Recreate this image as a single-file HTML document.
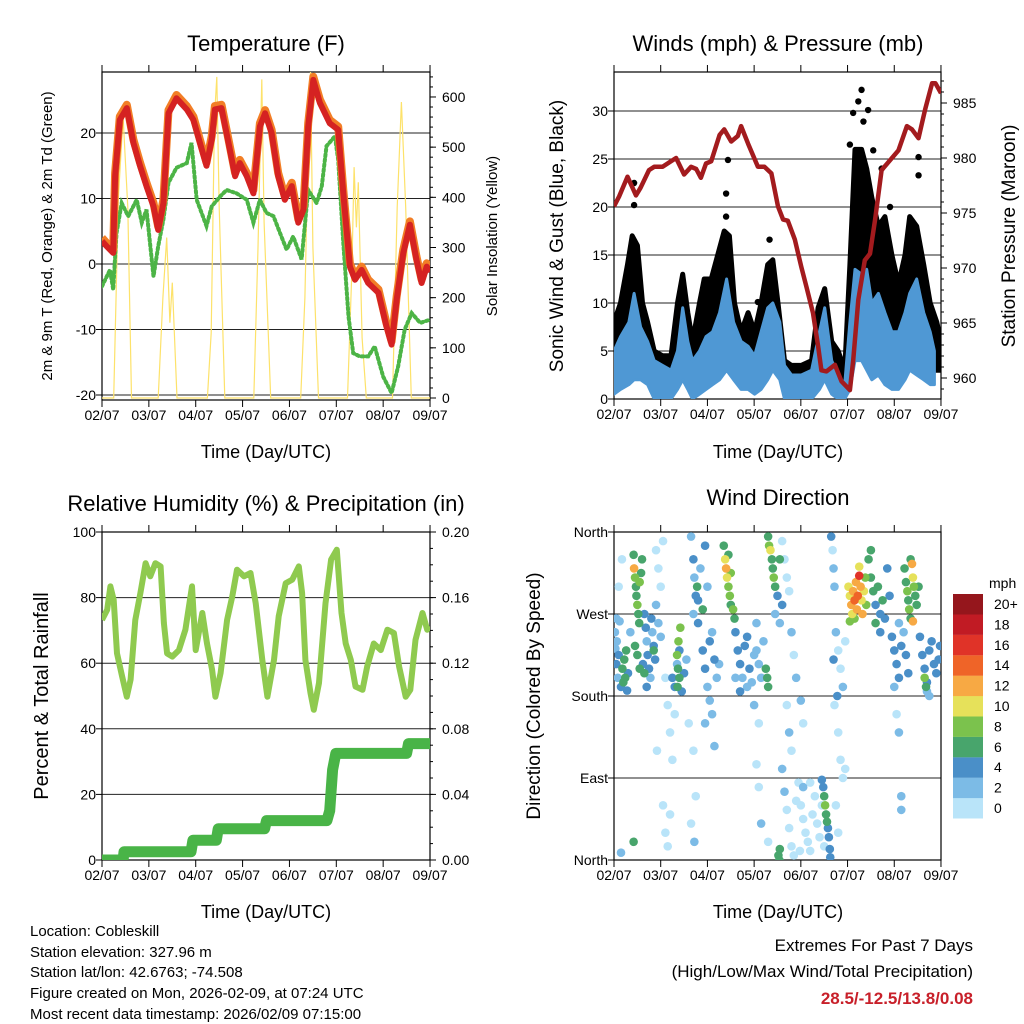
<!DOCTYPE html>
<html><head><meta charset="utf-8"><style>
body{margin:0;background:#fff}
svg{display:block;font-family:"Liberation Sans",Arial,sans-serif}
</style></head><body>
<svg id="chart" width="1024" height="1024" viewBox="0 0 1024 1024" xmlns="http://www.w3.org/2000/svg">
<defs>
<clipPath id="c1"><rect x="102" y="72" width="328" height="328"/></clipPath>
<clipPath id="c2"><rect x="614" y="72" width="327" height="327"/></clipPath>
<clipPath id="c3"><rect x="102" y="532" width="328" height="328"/></clipPath>
<clipPath id="c4"><rect x="614" y="532" width="327" height="328"/></clipPath>
</defs>
<g font-size="22">
<text x="266" y="51" text-anchor="middle">Temperature (F)</text>
<text x="778" y="51" text-anchor="middle">Winds (mph) &amp; Pressure (mb)</text>
<text x="266" y="511" text-anchor="middle">Relative Humidity (%) &amp; Precipitation (in)</text>
<text x="778" y="505" text-anchor="middle">Wind Direction</text>
</g>
<g font-size="18">
<text x="266" y="458" text-anchor="middle">Time (Day/UTC)</text>
<text x="778" y="458" text-anchor="middle">Time (Day/UTC)</text>
<text x="266" y="918" text-anchor="middle">Time (Day/UTC)</text>
<text x="778" y="918" text-anchor="middle">Time (Day/UTC)</text>
</g>
<text font-size="15" transform="translate(52,236) rotate(-90)" text-anchor="middle">2m &amp; 9m T (Red, Orange) &amp; 2m Td (Green)</text>
<text font-size="15" transform="translate(497,236) rotate(-90)" text-anchor="middle">Solar Insolation (Yellow)</text>
<text font-size="19" transform="translate(563,236) rotate(-90)" text-anchor="middle">Sonic Wind &amp; Gust (Blue, Black)</text>
<text font-size="19" transform="translate(1015,236) rotate(-90)" text-anchor="middle">Station Pressure (Maroon)</text>
<text font-size="20" transform="translate(48,696) rotate(-90)" text-anchor="middle">Percent &amp; Total Rainfall</text>
<text font-size="19" transform="translate(540,696) rotate(-90)" text-anchor="middle">Direction (Colored By Speed)</text>
<g font-size="15">
<text x="30" y="936">Location: Cobleskill</text>
<text x="30" y="957">Station elevation: 327.96 m</text>
<text x="30" y="977">Station lat/lon: 42.6763; -74.508</text>
<text x="30" y="998">Figure created on Mon, 2026-02-09, at 07:24 UTC</text>
<text x="30" y="1019">Most recent data timestamp: 2026/02/09 07:15:00</text>
</g>
<g font-size="17" text-anchor="end">
<text x="973" y="951">Extremes For Past 7 Days</text>
<text x="973" y="977">(High/Low/Max Wind/Total Precipitation)</text>
<text x="973" y="1004" fill="#c8202a" font-weight="bold">28.5/-12.5/13.8/0.08</text>
</g>
<g id="layer"></g>
</svg>
<script>
const dayLabels=["02/07","03/07","04/07","05/07","06/07","07/07","08/07","09/07"];
const tempTicks=[-20,-10,0,10,20];
const solarTicks=[0,100,200,300,400,500,600];
const windTicks=[0,5,10,15,20,25,30];
const presTicks=[960,965,970,975,980,985];
const rhTicks=[0,20,40,60,80,100];
const prTicks=[0,0.04,0.08,0.12,0.16,0.2];
const prTickLabels=["0.00","0.04","0.08","0.12","0.16","0.20"];
const dirTicks=[0,90,180,270,360];
const dirTickLabels=["North","East","South","West","North"];

const tempTime=[0,0.10,0.24,0.28,0.38,0.53,0.67,0.81,0.95,1.10,1.20,1.31,1.42,1.59,1.81,1.95,2.09,2.23,2.34,2.41,2.55,2.70,2.84,2.94,3.09,3.23,3.37,3.48,3.62,3.76,3.90,4.05,4.19,4.30,4.40,4.51,4.65,4.86,5.04,5.15,5.29,5.40,5.54,5.68,5.90,6.07,6.18,6.29,6.43,6.57,6.71,6.82,6.93,7.0];
const tempVal=[3.5,2.7,1.7,13.4,22,23.8,18.5,15,11.9,8.8,5.2,9.3,23,25.3,23.6,22,18.5,15,19,23.6,23.8,18.5,13.4,15.4,13.4,10.8,21,23,20,13.4,9.8,11.9,6.3,8.3,21,28.1,24.6,21.5,20.5,10.8,-0.4,-2.4,-0.9,-2.9,-4.4,-9.5,-12.3,-5.4,1.7,6,0.7,-2.9,-0.4,-1.2];
const dewTime=[0,0.17,0.24,0.31,0.42,0.56,0.74,0.85,0.95,1.10,1.20,1.31,1.42,1.59,1.81,1.91,2.02,2.23,2.34,2.52,2.66,2.87,3.09,3.23,3.37,3.51,3.66,3.80,3.94,4.08,4.26,4.40,4.58,4.69,4.79,4.97,5.04,5.15,5.26,5.36,5.50,5.68,5.82,6.00,6.18,6.32,6.46,6.61,6.79,7.0];
const dewVal=[-3.4,-0.9,-3.9,4.7,9.3,7.3,9.8,6.3,8.3,-1.9,2.7,6.8,12.4,14.7,15.4,18.5,9.8,5.8,8.8,10.3,11.3,10.8,9.8,6.3,9.8,7.8,7.3,4.7,2.2,4.2,0.7,11.3,9.3,11.9,18,19.5,15.9,3.2,-8,-13.6,-14.1,-14.1,-12.6,-17.2,-19.7,-15.6,-10,-7.5,-9,-8.5];
const solarTime=[0,0.25,0.35,0.45,0.55,0.63,1.2,1.3,1.38,1.45,1.5,1.6,2.25,2.33,2.4,2.45,2.5,2.62,3.24,3.33,3.41,3.46,3.6,4.24,4.33,4.4,4.45,4.5,4.62,5.24,5.33,5.38,5.43,5.47,5.55,5.64,6.2,6.3,6.39,6.48,6.6,7.0];
const solarVal=[0,0,400,560,380,0,0,200,320,150,230,0,0,130,560,640,380,0,0,300,635,350,0,0,200,500,650,300,0,0,250,460,340,430,120,0,0,380,590,380,0,0];

const presTime=[0,0.11,0.29,0.47,0.57,0.75,0.86,1.04,1.22,1.33,1.50,1.65,1.76,1.86,1.97,2.08,2.26,2.36,2.51,2.65,2.72,2.87,3.08,3.22,3.37,3.51,3.62,3.72,3.87,4.01,4.12,4.26,4.37,4.44,4.55,4.73,4.87,5.05,5.12,5.23,5.37,5.48,5.59,5.73,5.91,6.09,6.27,6.38,6.52,6.66,6.81,6.88,7.0];
const presVal=[975.6,976.5,978.3,976.6,977.3,978.9,979.2,979.2,979.7,980.0,978.5,979.2,979.0,978.2,979.5,979.7,982.1,982.6,981.5,982.0,982.9,981.3,979.2,979.2,978.6,975.6,974.4,974.3,972.6,970.1,968.3,965.9,962.9,960.7,960.6,961.2,959.7,958.9,961.6,967.1,970.7,971.3,974.4,978.9,979.8,980.7,982.9,982.6,981.8,984.4,986.8,986.8,985.9];
const windTime=[0,0.14,0.32,0.43,0.57,0.72,0.86,1.04,1.22,1.36,1.47,1.58,1.68,1.83,1.97,2.11,2.26,2.41,2.56,2.72,2.87,3.01,3.15,3.29,3.40,3.55,3.65,3.80,4.01,4.23,4.40,4.51,4.66,4.80,4.94,5.05,5.16,5.30,5.41,5.52,5.66,5.80,5.95,6.09,6.23,6.33,6.48,6.63,6.77,6.86];
const windLo=[0.5,1,1.5,2,2,1.5,0,0,0,1,2,1,0,0.5,1,1.5,2,3,2,1,1,0.5,1,2,3,2,0,0,0,0,1,2,0.5,0,0,1,4,4,3,2,2.5,1.5,1,1,2,3,2.5,2,1.5,1.5];
const windHi=[5,6.5,8,11,7.5,6,4,3.5,3,5,9.5,6,4,5,6.5,7,9,12.5,8,6,5.5,4.5,7,9.5,10,8,3.5,2.5,2.5,3,7,9.5,4,2.5,1.5,8,13.5,13,13.5,10,11,9,7,7,9,11,12.5,9,7,5];
const gustLo=[2,3,5,7,6,4,3,1,1,1,3,4,2,1,3,5,5,6,7,6,4,3,3,2,3,5,6,4,1,1,1,1,3,4,2,1,1,5,9,10,8,7,5,4,4,3,5,6,6,4,3,3,3];
const gustHi=[8,10,14,17,16,10,8,5,4.5,4.5,10,13,9,6,10,12.5,12.5,15,17.5,17,10,7,9,7,10,14,14.5,10,4,3.5,3.5,4,9.5,11.5,6,5,3,14,26,26,24,21,18,19,15,12,15,19,18,14,10,8,6];
const gustTime=[0,0.14,0.29,0.39,0.50,0.61,0.72,0.86,1.04,1.22,1.36,1.47,1.58,1.68,1.83,1.93,2.08,2.22,2.36,2.47,2.58,2.72,2.87,3.01,3.15,3.29,3.40,3.51,3.65,3.80,4.01,4.23,4.37,4.51,4.66,4.80,4.94,5.05,5.16,5.30,5.41,5.52,5.66,5.80,5.95,6.09,6.23,6.33,6.48,6.63,6.77,6.91,7.0];
const gustDotTime=[0.43,0.43,2.44,2.40,2.40,3.33,4.51,5.30,5.23,5.44,5.12,5.34,6.52,6.52,5.91,5.73,5.55,5.05,3.08];
const gustDotVal=[22.5,20.2,24.9,21.4,19,16.6,10.8,32.2,31,30.1,29.8,28.9,25.2,23.3,20,24,25.9,26.5,10.1];

const rhTime=[0,0.11,0.18,0.25,0.32,0.43,0.53,0.61,0.71,0.82,0.93,1.03,1.14,1.25,1.32,1.39,1.50,1.64,1.78,1.92,2.0,2.14,2.24,2.35,2.42,2.53,2.67,2.78,2.88,3.03,3.17,3.28,3.42,3.53,3.67,3.77,3.92,4.06,4.20,4.27,4.34,4.45,4.52,4.63,4.77,4.89,5.01,5.11,5.20,5.31,5.41,5.56,5.66,5.80,5.95,6.09,6.23,6.34,6.48,6.58,6.69,6.84,6.94,7.0];
const rhVal=[73.2,76.3,83.4,79.3,63,56,49.8,55,73.2,81.4,90.5,86.5,90.5,89.5,72.2,63,62,64,70.2,83.4,64,75.3,66,58,49.8,57,73.2,80.4,88.5,86.5,87.5,78.3,61,49.8,61,74.3,84.4,85.5,89.5,81.4,61,50.9,45.8,54,78.3,91.6,94.6,75.3,66,61,52.9,51.9,59,66,64,70.2,69.2,59,49.8,51.9,67.1,75.3,70.2,71.2];
const precipTime=[0,0.45,0.47,1.9,1.94,2.44,2.48,3.47,3.51,4.80,4.86,4.92,4.99,6.50,6.54,7.0];
const precipVal=[0,0,0.005,0.005,0.012,0.012,0.019,0.019,0.024,0.024,0.03,0.055,0.065,0.065,0.071,0.071];

const dirPts=[[0.02,250,3],[0.03,232,3],[0.05,215,4],[0.06,240,2],[0.08,200,3],[0.1,225,4],[0.12,262,2],[0.15,190,5],[0.18,210,6],[0.2,195,6],[0.22,220,6],[0.24,200,6],[0.26,230,6],[0.28,186,4],[0.3,205,5],[0.35,250,3],[0.1,300,1],[0.17,330,1],[0.05,265,2],
[0.42,335,7],[0.43,320,12],[0.45,310,8],[0.47,300,7],[0.48,290,6],[0.5,280,8],[0.52,270,6],[0.54,260,7],[0.55,305,8],[0.58,315,7],[0.6,330,6],[0.45,235,6],[0.5,225,7],[0.55,210,6],
[0.65,270,4],[0.68,255,4],[0.7,240,3],[0.72,225,4],[0.75,210,4],[0.78,200,3],[0.8,265,4],[0.82,250,3],[0.85,235,4],[0.88,220,4],[0.9,280,3],[0.7,190,4],[0.95,260,2],[1.0,245,2],[0.85,230,6],[0.65,205,6],[0.62,215,5],
[0.9,340,1],[0.95,320,0],[1.0,300,1],[1.05,350,1],[1.1,200,1],[1.15,170,1],[1.2,140,1],[0.92,120,0],[1.05,60,0],[1.1,30,1],[1.15,15,1],[1.2,50,0],[1.25,110,1],[1.3,160,1],
[1.25,200,4],[1.3,190,4],[1.35,215,3],[1.4,230,4],[1.45,185,4],[1.5,205,4],[1.55,220,3],[1.35,225,8],[1.37,210,7],[1.38,240,8],[1.4,200,6],[1.42,255,8],[1.36,190,6],
[1.65,355,3],[1.7,330,4],[1.72,310,3],[1.75,290,4],[1.78,300,6],[1.8,285,4],[1.85,320,3],[1.9,275,6],[1.95,345,4],[2.0,300,3],[1.7,270,2],[1.8,260,4],[1.6,150,1],[1.7,120,1],[1.75,70,1],[1.65,40,1],[1.72,20,2],
[1.9,230,4],[1.95,210,4],[2.0,190,3],[2.05,240,4],[2.1,250,3],[2.15,220,4],[2.2,200,3],[2.25,215,2],[2.05,175,2],[2.1,160,3],[2.15,125,2],[1.95,150,2],
[2.35,345,7],[2.38,330,10],[2.4,320,12],[2.42,310,10],[2.45,300,9],[2.48,290,8],[2.5,280,7],[2.55,275,8],[2.58,265,6],[2.5,315,8],[2.45,335,7],
[2.6,250,4],[2.65,230,4],[2.7,215,4],[2.75,200,3],[2.8,235,4],[2.85,245,4],[2.9,210,4],[2.95,195,3],[3.0,225,3],[3.05,260,2],[2.7,185,4],[2.85,190,3],[2.6,200,3],
[3.05,230,3],[3.1,215,2],[3.15,200,2],[3.2,240,2],[3.25,210,6],[3.28,200,6],[3.3,190,6],[3.0,170,2],[3.1,150,1],[3.05,105,1],[3.1,80,1],[3.15,40,2],[3.3,20,1],
[3.3,355,6],[3.32,345,8],[3.35,340,10],[3.38,330,7],[3.4,320,6],[3.42,310,8],[3.45,300,6],[3.5,290,5],[3.55,330,6],[3.6,280,4],[3.45,270,2],[3.55,260,3],
[3.6,350,1],[3.65,330,0],[3.7,310,1],[3.75,295,0],[3.8,250,2],[3.85,225,1],[3.9,200,2],[3.7,170,1],[3.75,140,2],[3.8,120,0],[3.6,100,2],[3.65,75,2],[3.7,55,1],[3.75,35,1],[3.8,15,0],[3.85,5,0],[3.9,65,1],[3.95,85,0],[4.0,175,2],[4.05,150,1],
[4.0,60,1],[4.05,45,0],[4.1,30,1],[4.15,20,0],[4.2,10,1],[4.25,50,0],[4.3,70,1],[4.35,40,1],[4.4,25,0],[4.45,60,1],[4.05,80,2],[4.2,85,1],[3.98,10,0],[4.5,15,0],
[4.45,88,4],[4.48,80,4],[4.5,70,7],[4.52,60,8],[4.54,50,7],[4.56,42,6],[4.58,35,4],[4.6,25,4],[4.62,12,4],[4.63,3,4],[3.52,5,6],[3.55,12,6],[3.54,0,6],[0.42,20,6],[0.15,8,2],
[4.65,355,4],[4.68,340,1],[4.7,320,2],[4.72,300,2],[4.75,250,2],[4.8,230,1],[4.85,210,1],[4.9,190,2],[4.95,240,1],[4.72,170,1],[4.8,140,1],[4.85,110,1],[4.9,90,1],[4.75,60,1],[4.8,30,1],[4.95,100,1],[4.7,220,4],[4.78,180,4],
[5.02,300,10],[5.05,290,10],[5.08,280,12],[5.1,270,10],[5.12,295,12],[5.15,285,14],[5.18,305,12],[5.2,275,12],[5.22,290,14],[5.25,312,16],[5.28,300,12],[5.3,285,10],[5.32,270,12],[5.35,295,10],[5.38,310,8],[5.4,280,8],[5.15,265,8],[5.05,262,8],[5.25,322,10],
[5.45,330,6],[5.5,310,6],[5.55,295,6],[5.6,280,4],[5.65,300,6],[5.7,270,4],[5.75,285,6],[5.8,265,4],[5.85,320,4],[5.5,340,6],[5.6,260,6],[5.7,250,4],[5.9,290,4],
[5.95,245,4],[6.0,230,4],[6.05,215,4],[6.1,200,4],[6.15,235,4],[6.2,250,3],[6.25,225,4],[6.3,205,4],[6.0,190,3],[6.1,260,2],[6.05,160,1],[6.1,140,2],[6.15,70,3],[6.15,55,3],
[6.22,320,6],[6.25,305,7],[6.28,295,8],[6.3,285,6],[6.32,275,8],[6.35,265,7],[6.38,325,12],[6.4,310,10],[6.42,300,8],[6.45,290,6],[6.48,280,7],[6.52,300,6],[6.4,262,12],[6.35,330,6],
[6.55,245,4],[6.6,225,4],[6.65,210,4],[6.7,195,4],[6.75,230,4],[6.8,240,4],[6.85,215,4],[6.9,205,4],[6.95,220,4],[6.7,185,3],[6.65,200,8],[6.68,190,6],[6.75,180,2],[6.98,235,4]];
const speedLabels=["0","2","4","6","8","10","12","14","16","18","20+"];
const speedColors=["#b9e4f9","#7cbbe6","#4a8fc8","#48a56c","#7bc24d","#e6e15a","#f7a944","#ef6428","#e03328","#c11b24","#95161c"];

const NS="http://www.w3.org/2000/svg";
const layer=document.getElementById('layer');
function mk(tag,attrs,parent){const e=document.createElementNS(NS,tag);for(const k in attrs)e.setAttribute(k,attrs[k]);(parent||layer).appendChild(e);return e;}
function pts(ts,vs,fx,fy){return ts.map((t,i)=>fx(t).toFixed(1)+","+fy(vs[i]).toFixed(1)).join(" ");}

const x1=d=>102+d*46.86, x2=d=>614+d*46.71;
const yT=v=>264-v*6.55, yS=v=>398-v*0.5017;
const yW=v=>399-v*9.6, yP=v=>378-(v-960)*11;
const yRH=v=>860-v*3.28, yPr=v=>860-v*1640;
const yD=v=>860-v*328/360;

function frame(name,x,y,w,h,xf){
  const g=mk('g',{});
  
  
  dayLabels.forEach((lab,i)=>{
    const xx=xf(i);
    const t1=mk('line',{x1:xx,x2:xx,y1:y,y2:y-7,stroke:'#000','stroke-width':1},g);
    
    
    const t2=mk('line',{x1:xx,x2:xx,y1:y+h,y2:y+h+7,stroke:'#000','stroke-width':1},g);
    
    
    const tx=mk('text',{x:xx,y:y+h+20,'text-anchor':'middle','font-size':14},g);
    tx.textContent=lab;
    
    
  });
  return g;
}
function leftAxis(g,ticks,labels,yf,x0,x1r){
  ticks.forEach((v,i)=>{
    const yy=yf(v);
    const gl=mk('line',{x1:x0,x2:x1r,y1:yy,y2:yy,stroke:'#222','stroke-width':1},g);
    
    
    const tk=mk('line',{x1:x0-6,x2:x0,y1:yy,y2:yy,stroke:'#000'},g);
    
    
    const tx=mk('text',{x:x0-6,y:yy+5,'text-anchor':'end','font-size':14},g);
    tx.textContent=labels?labels[i]:String(v);
    
    
  });
}
function rightAxis(g,ticks,labels,yf,xr,minorStep,ymin,ymax){
  ticks.forEach((v,i)=>{
    const yy=yf(v);
    const tk=mk('line',{x1:xr,x2:xr+6,y1:yy,y2:yy,stroke:'#000'},g);
    
    
    const tx=mk('text',{x:xr+12,y:yy+5,'font-size':14},g);
    tx.textContent=labels?labels[i]:String(v);
    
    
  });
  for(let v=ticks[0]-minorStep*6;v<=ticks[ticks.length-1]+minorStep*6;v+=minorStep){
    const yy=yf(v); if(yy<ymin||yy>ymax)continue;
    const m=mk('line',{x1:xr,x2:xr+3,y1:yy,y2:yy,stroke:'#000'},g);
    
    
  }
}
function border(g,x,y,w,h){
  const r=mk('rect',{x:x,y:y,width:w,height:h,fill:'none',stroke:'#000','stroke-width':1.2},g);
  
  
}

let g1=frame('temperature',102,72,328,328,x1);
leftAxis(g1,tempTicks,null,yT,102,430);
rightAxis(g1,solarTicks,null,yS,430,20,72,400);
let p1=mk('g',{'clip-path':'url(#c1)'});


let e=mk('polyline',{points:pts(solarTime,solarVal,x1,yS),fill:'none',stroke:'#fde26a','stroke-width':1.2},p1);


e=mk('polyline',{points:pts(dewTime,dewVal,x1,yT),fill:'none',stroke:'#4cb446','stroke-width':4,'stroke-dasharray':'2 3','stroke-linecap':'round'},p1);


e=mk('polyline',{points:pts(tempTime,tempVal.map(v=>v+0.5),x1,yT),fill:'none',stroke:'#f27e26','stroke-width':8,'stroke-linejoin':'round'},p1);


e=mk('polyline',{points:pts(tempTime,tempVal,x1,yT),fill:'none',stroke:'#d52222','stroke-width':6,'stroke-linejoin':'round'},p1);


border(g1,102,72,328,328);

let g2=frame('winds',614,72,327,327,x2);
leftAxis(g2,windTicks,null,yW,614,941);
rightAxis(g2,presTicks,null,yP,941,1,72,399);
let p2=mk('g',{'clip-path':'url(#c2)'});


e=mk('polygon',{points:pts(gustTime,gustHi,x2,yW)+" "+pts(gustTime.slice().reverse(),gustLo.slice().reverse(),x2,yW),fill:'#000',stroke:'#000','stroke-width':5,'stroke-linejoin':'round'},p2);


gustDotTime.forEach((t,i)=>{
  const c=mk('circle',{cx:x2(t),cy:yW(gustDotVal[i]),r:3.2,fill:'#000'},p2);
  
  
});
e=mk('polygon',{points:pts(windTime,windHi,x2,yW)+" "+pts(windTime.slice().reverse(),windLo.slice().reverse(),x2,yW),fill:'#4f98d4',stroke:'#4f98d4','stroke-width':3,'stroke-linejoin':'round'},p2);


e=mk('polyline',{points:pts(presTime,presVal,x2,yP),fill:'none',stroke:'#a31b1e','stroke-width':4.5,'stroke-linejoin':'round'},p2);


border(g2,614,72,327,327);

let g3=frame('humidity',102,532,328,328,x1);
leftAxis(g3,rhTicks,null,yRH,102,430);
rightAxis(g3,prTicks,prTickLabels,yPr,430,0.01,532,860);
let p3=mk('g',{'clip-path':'url(#c3)'});


e=mk('polyline',{points:pts(rhTime,rhVal,x1,yRH),fill:'none',stroke:'#8fca4f','stroke-width':6,'stroke-linejoin':'round'},p3);


e=mk('polyline',{points:pts(precipTime,precipVal,x1,yPr),fill:'none',stroke:'#49b447','stroke-width':11,'stroke-linejoin':'round','stroke-linecap':'round'},p3);


border(g3,102,532,328,328);

let g4=frame('direction',614,532,327,328,x2);
leftAxis(g4,dirTicks,dirTickLabels,yD,614,941);
let p4=mk('g',{'clip-path':'url(#c4)'});


dirPts.slice().sort((a,b)=>a[2]-b[2]).forEach(p=>{
  const bin=Math.min(10,Math.floor(p[2]/2));
  const c=mk('circle',{cx:x2(p[0]),cy:yD(p[1]),r:4.3,fill:speedColors[bin]},p4);
  
  
});
border(g4,614,532,327,328);

const cb=mk('g',{});


let t=mk('text',{x:989,y:588,'font-size':14},cb);
t.textContent='mph';


speedLabels.forEach((lab,i)=>{
  const k=10-i;
  const r=mk('rect',{x:953,y:594+k*20.4,width:30,height:20.5,fill:speedColors[i]},cb);
  
  
  const tx=mk('text',{x:994,y:594+k*20.4+15,'font-size':14},cb);
  tx.textContent=lab;
  
  
});
</script>
</body></html>
